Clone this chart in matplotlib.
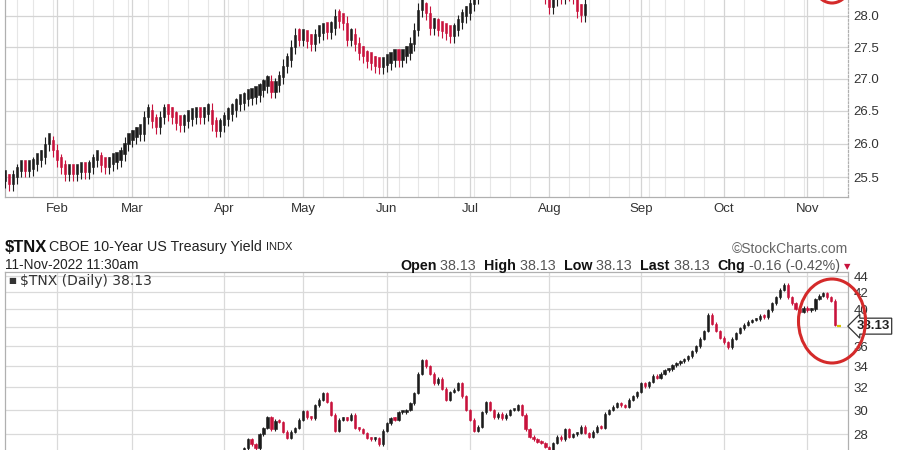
import numpy as np
import pandas as pd
import matplotlib
matplotlib.use("Agg")
import matplotlib.pyplot as plt
from matplotlib.patches import Ellipse
from matplotlib.ticker import FixedLocator, FixedFormatter, NullLocator

# trading calendar 2022 (12-Jan .. 11-Nov)
holidays = ["2022-01-17", "2022-02-21", "2022-04-15", "2022-05-30",
            "2022-06-20", "2022-07-04", "2022-09-05"]
dates = pd.bdate_range("2022-01-12", "2022-11-11", freq="C", holidays=holidays)

month_labels = ["Feb", "Mar", "Apr", "May", "Jun", "Jul", "Aug", "Sep", "Oct", "Nov"]

# upper panel closes (from 12-Jan, ends mid-Aug; Jul values run above the visible top)
top_jan = [25.45, 25.40, 25.50, 25.60, 25.62, 25.60, 25.62, 25.70, 25.75, 25.80, 26.00, 26.02, 25.90]
top_feb = [25.75, 25.65, 25.55, 25.57, 25.55, 25.58, 25.60, 25.58, 25.65, 25.75, 25.78, 25.68, 25.65,
           25.70, 25.72, 25.75, 25.85, 26.00, 26.05]
top_mar = [26.10, 26.15, 26.15, 26.40, 26.50, 26.35, 26.25, 26.40, 26.50, 26.45, 26.40, 26.32, 26.28,
           26.35, 26.38, 26.40, 26.42, 26.40, 26.45, 26.52, 26.30, 26.20, 26.28]
top_apr = [26.38, 26.45, 26.52, 26.60, 26.62, 26.68, 26.70, 26.72, 26.75, 26.82, 26.88, 26.95, 26.80,
           26.90, 27.02, 27.20, 27.30, 27.50, 27.70, 27.62]
top_may = [27.65, 27.60, 27.55, 27.68, 27.72, 27.75, 27.74, 27.80, 28.00, 27.92, 27.88, 27.62, 27.70,
           27.55, 27.40, 27.35, 27.28, 27.25, 27.20, 27.18, 27.22]
top_jun = [27.25, 27.30, 27.32, 27.30, 27.35, 27.40, 27.55, 27.78, 28.10, 28.12, 28.05, 27.80, 27.85,
           27.78, 27.75, 27.72, 27.68, 27.78, 27.90, 28.00, 28.05]
top_jul = [28.20, 28.30, 28.40, 28.50, 28.45, 28.60, 28.55, 28.50, 28.65, 28.70, 28.60, 28.50, 28.45,
           28.55, 28.60, 28.70, 28.65, 28.50, 28.40, 28.30]
top_aug = [28.15, 28.28, 28.35, 28.30, 28.40, 28.35, 28.30, 28.08, 28.02, 28.20]
top_close = top_jan + top_feb + top_mar + top_apr + top_may + top_jun + top_jul + top_aug

# $TNX closes (x10 yield)
tnx_jan = [17.3, 17.0, 17.8, 18.7, 18.6, 18.3, 17.5, 17.7, 17.8, 18.5, 18.0, 17.7, 17.8]
tnx_feb = [18.0, 17.9, 18.2, 18.3, 19.2, 19.5, 19.2, 19.5, 20.3, 20.0, 19.8, 20.5, 20.5, 19.7, 19.3,
           19.4, 19.8, 19.6, 18.3]
tnx_mar = [17.2, 18.6, 18.5, 17.4, 17.7, 18.5, 19.5, 20.0, 20.0, 21.4, 21.3, 21.8, 21.7, 21.4, 23.2,
           23.9, 23.6, 23.7, 24.8, 24.6, 23.9, 23.5, 23.4]
tnx_apr = [23.9, 23.9, 25.6, 26.1, 26.6, 26.9, 27.6, 27.2, 26.9, 28.0, 28.5, 29.4, 28.4, 29.1, 29.0,
           28.2, 27.7, 28.2, 28.5, 29.2]
tnx_may = [29.9, 29.4, 29.3, 30.4, 30.9, 31.5, 30.7, 29.6, 28.3, 29.2, 29.3, 29.2, 29.6, 28.5, 28.4,
           28.1, 27.7, 27.6, 27.7, 27.2, 28.3]
tnx_jun = [28.9, 29.3, 29.2, 29.8, 29.8, 30.0, 30.6, 31.5, 33.3, 34.6, 34.0, 33.3, 32.4, 32.8, 31.9,
           30.9, 31.6, 31.8, 32.4, 31.2, 30.0]
tnx_jul = [29.2, 28.3, 28.6, 29.8, 30.7, 30.0, 29.4, 29.7, 29.3, 29.6, 30.0, 30.0, 30.4, 29.6, 28.4,
           27.8, 27.6, 27.4, 27.3, 27.0]
tnx_aug = [26.8, 27.3, 27.8, 27.6, 28.4, 27.8, 28.0, 28.1, 28.6, 28.1, 27.8, 28.2, 28.6, 28.5, 29.7,
           30.0, 30.3, 30.6, 30.4, 30.3, 30.9, 31.2, 31.6]
tnx_sep = [32.4, 32.1, 32.5, 33.1, 32.9, 33.3, 33.6, 33.7, 34.1, 34.3, 34.5, 34.7, 35.0, 35.5, 36.0,
           36.8, 37.6, 39.4, 38.4, 37.6, 36.9]
tnx_oct = [36.4, 35.9, 36.8, 37.4, 37.9, 38.3, 38.6, 38.8, 38.9, 39.3, 39.1, 39.9, 40.7, 41.4, 42.3,
           42.9, 41.4, 40.7, 40.1, 39.7, 40.2]
tnx_nov = [39.9, 40.0, 41.2, 41.6, 41.9, 41.4, 41.0, 38.29, 38.13]
tnx_close = tnx_jan + tnx_feb + tnx_mar + tnx_apr + tnx_may + tnx_jun + tnx_jul + tnx_aug + \
    tnx_sep + tnx_oct + tnx_nov

top_ticks = [25.5, 26.0, 26.5, 27.0, 27.5, 28.0]
tnx_ticks = [28, 30, 32, 34, 36, 38, 40, 42, 44]
tnx_tick_labels = ["28", "30", "32", "34", "36", "", "40", "42", "44"]

RED = "#c8123c"
BLACK = "#1c1c1c"
FONT = "Liberation Sans"


def candles(ax, close):
    close = np.asarray(close, dtype=float)
    opens = np.r_[close[0], close[:-1]]
    x = np.arange(len(close))
    lo = np.minimum(opens, close)
    hi = np.maximum(opens, close)
    colors = np.where(close < opens, RED, BLACK)
    h = np.maximum(hi - lo, close * 0.006)
    ax.vlines(x, lo * 0.996, hi * 1.004, colors=colors, lw=0.8, zorder=3)
    ax.bar(x, h, bottom=lo, width=0.55, color=colors, edgecolor=colors, lw=0.4, zorder=3)


month_idx = [i for i in range(1, len(dates)) if dates[i].month != dates[i - 1].month]
week_idx = [i for i in range(1, len(dates)) if dates[i].weekday() < dates[i - 1].weekday()]

fig = plt.figure(figsize=(9, 4.5), dpi=100)

# ---------------- upper panel ----------------
ax1 = fig.add_axes([5 / 900, 1 - 197 / 450, 843 / 900, 217 / 450])
ax1.set_yscale("log")
candles(ax1, top_close)
ax1.set_xlim(-0.1, 212.2)
ax1.set_ylim(25.21, 28.59)
ax1.yaxis.set_major_locator(FixedLocator(top_ticks))
ax1.yaxis.set_major_formatter(FixedFormatter(["%.1f" % t for t in top_ticks]))
ax1.yaxis.set_minor_locator(NullLocator())
ax1.yaxis.tick_right()
ax1.xaxis.set_major_locator(FixedLocator(month_idx))
ax1.xaxis.set_major_formatter(FixedFormatter(month_labels))
ax1.xaxis.set_minor_locator(FixedLocator(week_idx))
ax1.tick_params(axis="both", which="both", length=0, labelsize=9.5, labelcolor="#333333")
ax1.tick_params(axis="y", pad=4)
ax1.tick_params(axis="x", pad=4)
for lab in ax1.get_xticklabels() + ax1.get_yticklabels():
    lab.set_fontfamily(FONT)
ax1.grid(True, which="major", axis="both", color="#d4d4d4", lw=0.9)
ax1.grid(True, which="minor", axis="x", color="#e6e6e6", lw=0.8)
ax1.set_axisbelow(True)
for s in ax1.spines.values():
    s.set_color("#b0b0b0")
    s.set_linewidth(0.9)
ax1.spines["right"].set_linestyle((0, (1.5, 1.5)))

# ---------------- lower panel ----------------
ax2 = fig.add_axes([5 / 900, -20 / 450, 843 / 900, 198 / 450])
ax2.set_yscale("log")
candles(ax2, tnx_close[:-1])
ax2.hlines(tnx_close[-1], len(tnx_close) - 1.5, len(tnx_close) - 0.6, color="#d8c400", lw=1.6, zorder=4)
ax2.set_xlim(-0.1, 212.2)
ax2.set_ylim(25.28, 44.51)
ax2.yaxis.set_major_locator(FixedLocator(tnx_ticks))
ax2.yaxis.set_major_formatter(FixedFormatter(tnx_tick_labels))
ax2.yaxis.set_minor_locator(NullLocator())
ax2.yaxis.tick_right()
ax2.xaxis.set_major_locator(FixedLocator(month_idx))
ax2.xaxis.set_minor_locator(NullLocator())
ax2.set_xticklabels([])
ax2.tick_params(axis="both", which="both", length=0, labelsize=9.5, labelcolor="#333333")
ax2.tick_params(axis="y", pad=4)
for lab in ax2.get_yticklabels():
    lab.set_fontfamily(FONT)
ax2.grid(True, which="major", axis="both", color="#dadada", lw=0.9)
ax2.set_axisbelow(True)
for s in ax2.spines.values():
    s.set_color("#b0b0b0")
    s.set_linewidth(0.9)

# last price marker
ax2.annotate("%.2f" % tnx_close[-1], xy=(1.0, tnx_close[-1]), xycoords=("axes fraction", "data"),
             xytext=(6, 0), textcoords="offset points", va="center", ha="left",
             fontsize=9.5, fontweight="bold", family=FONT, color="#222222",
             bbox=dict(boxstyle="larrow,pad=0.15", fc="white", ec="#333333", lw=0.9), zorder=6)

# ---------------- header texts ----------------
fig.text(5 / 900, 1 - 247 / 450, "$TNX", fontsize=12, fontweight="bold", family=FONT,
         color="#111111", va="center")
fig.text(49 / 900, 1 - 247 / 450, "CBOE 10-Year US Treasury Yield", fontsize=10.3, family=FONT,
         color="#222222", va="center")
fig.text(266 / 900, 1 - 247 / 450, "INDX", fontsize=8, family=FONT, color="#222222", va="center")
fig.text(5 / 900, 1 - 265 / 450, "11-Nov-2022 11:30am", fontsize=9.8, family=FONT,
         color="#222222", va="center")
fig.text(848 / 900, 1 - 249 / 450, "\u00a9StockCharts.com", fontsize=10, family=FONT,
         color="#666666", va="center", ha="right")

header = [("Open", " 38.13  "), ("High", " 38.13  "), ("Low", " 38.13  "),
          ("Last", " 38.13  "), ("Chg", " -0.16 (-0.42%) ")]
renderer = fig.canvas.get_renderer()
xpos = 400
for label, val in header:
    t1 = fig.text(xpos / 900, 1 - 266 / 450, label, fontsize=10.3, fontweight="bold", family=FONT,
                  color="#111111", va="center")
    xpos += t1.get_window_extent(renderer).width
    t2 = fig.text(xpos / 900, 1 - 266 / 450, val, fontsize=10.3, family=FONT, color="#555555",
                  va="center")
    xpos += t2.get_window_extent(renderer).width
fig.text(xpos / 900, 1 - 267 / 450, "\u25bc", fontsize=6, family="DejaVu Sans", color=RED, va="center")

# legend inside lower panel
ax2.text(0.004, 0.955, "\u25a0", transform=ax2.transAxes, fontsize=6, color="#333333",
         va="center", family="DejaVu Sans")
ax2.text(0.018, 0.955, "$TNX (Daily) 38.13", transform=ax2.transAxes, fontsize=10,
         color="#333333", va="center", family="DejaVu Sans")

# hand-drawn red circles
fig.patches.append(Ellipse((832 / 900, 1 - 321 / 450), 67 / 900, 84 / 450, angle=0,
                           transform=fig.transFigure, fill=False, ec="#d42a2a", lw=2.2, zorder=10))
fig.patches.append(Ellipse((832 / 900, 1 + 40 / 450), 52 / 900, 86 / 450, angle=0,
                           transform=fig.transFigure, fill=False, ec="#d42a2a", lw=2.2, zorder=10))

fig.savefig("out.png", dpi=100, facecolor="white")
